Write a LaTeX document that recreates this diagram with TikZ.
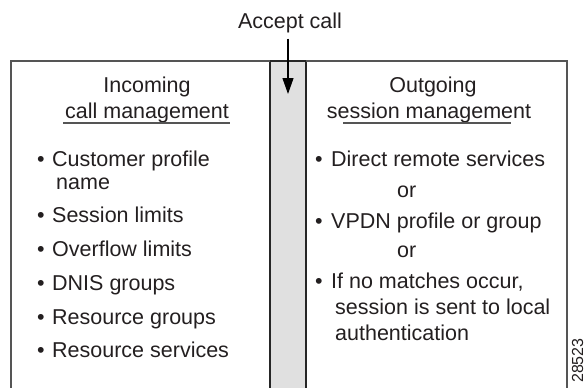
\documentclass[tikz,border=0pt]{standalone}
\usepackage{fontspec}
\setmainfont{Liberation Sans}
\usetikzlibrary{arrows.meta}
\definecolor{txt}{HTML}{231F20}
\definecolor{colfill}{HTML}{E0E0E0}
\definecolor{frame}{HTML}{555555}
\begin{document}
\begin{tikzpicture}[x=1pt,y=-1pt,
  lbl/.style={inner sep=0pt,anchor=base west,text=txt,font=\fontsize{21.5}{24}\selectfont},
  hdr/.style={inner sep=0pt,anchor=base,text=txt,font=\fontsize{21.5}{24}\selectfont},
  bul/.style={inner sep=0pt,anchor=base,text=txt,font=\fontsize{21.5}{24}\selectfont},
  uline/.style={draw=frame,line width=1.2pt},
  framel/.style={draw=frame,line width=1.3pt},
  coll/.style={draw=black!85,line width=1.2pt}]
\useasboundingbox (0,0) rectangle (587,388);
% gray column
\fill[colfill] (270,61) rectangle (306,390);
\draw[coll] (270,61) -- (270,390);
\draw[coll] (306,61) -- (306,390);
\draw[coll] (270,61) -- (306,61);
% outer frame (open at bottom)
\draw[framel] (11,390) -- (11,61) -- (270,61);
\draw[framel] (306,61) -- (567,61) -- (567,390);
% accept call
\node[hdr] (acc) at (290,28) {Accept call};
\coordinate (tip) at (288,94);
\draw[line width=1.2pt,-{Triangle[length=16pt,width=11pt]}] (tip |- acc.south) ++(0,6) -- (tip);
% headers
\node[hdr] (inc1) at (147,92) {Incoming};
\node[hdr] (inc2) at (147,118) {call management};
\draw[uline] (63,123) -- (230,123);
\node[hdr] (out1) at (433,92) {Outgoing};
\node[hdr] (out2) at (429,118) {session management};
\draw[uline] (343,123) -- (511,123);
% left bullets
\foreach \y/\t [count=\i] in {166/Customer profile,222/Session limits,256/Overflow limits,290/DNIS groups,324/Resource groups,357/Resource services}{
  \node[bul] (lb\i) at (41,\y) {•};
  \node[lbl] (lt\i) at (52,\y) {\t};
}
\node[lbl] (lt1b) at (56,189) {name};
% right bullets
\node[bul] (rb1) at (319,166) {•};
\node[lbl] (rt1) at (331,166) {Direct remote services};
\node[lbl] (or1) at (397,197) {or};
\node[bul] (rb2) at (319,228) {•};
\node[lbl] (rt2) at (331,228) {VPDN profile or group};
\node[lbl] (or2) at (397,257) {or};
\node[bul] (rb3) at (319,288) {•};
\node[lbl] (rt3) at (331,288) {If no matches occur,};
\node[lbl] (rt3b) at (335,314) {session is sent to local};
\node[lbl] (rt3c) at (335,340) {authentication};
% figure number
\node[inner sep=0pt,anchor=base west,rotate=90,text=txt,font=\fontsize{16}{18}\selectfont] (fig) at (583,383) {28523};
\end{tikzpicture}
\end{document}
